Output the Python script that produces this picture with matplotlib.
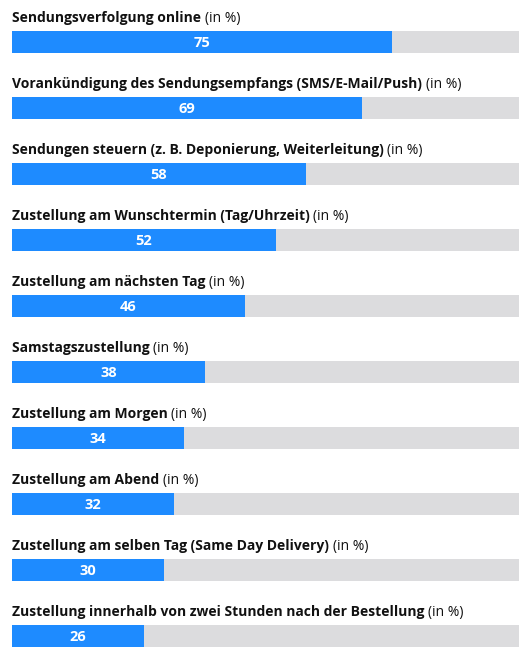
import matplotlib
matplotlib.use("Agg")
import matplotlib.pyplot as plt

labels = [
    "Sendungsverfolgung online",
    "Vorankündigung des Sendungsempfangs (SMS/E-Mail/Push)",
    "Sendungen steuern (z. B. Deponierung, Weiterleitung)",
    "Zustellung am Wunschtermin (Tag/Uhrzeit)",
    "Zustellung am nächsten Tag",
    "Samstagszustellung",
    "Zustellung am Morgen",
    "Zustellung am Abend",
    "Zustellung am selben Tag (Same Day Delivery)",
    "Zustellung innerhalb von zwei Stunden nach der Bestellung",
]
values = [75, 69, 58, 52, 46, 38, 34, 32, 30, 26]
suffix = "(in %)"

blue = "#1e8bff"
grey = "#dcdcde"
font = "Open Sans"

fig = plt.figure(figsize=(5.3, 6.58), dpi=100)
ax = fig.add_axes([0, 0, 1, 1])
px = 5.07  # pixels per percent
ax.set_xlim(-12 / px, (530 - 12) / px)
ax.set_ylim(616 / 66, -42 / 66)
ax.axis("off")

rows = list(range(len(values)))
ax.barh(rows, [100] * len(values), height=22 / 66, color=grey, left=0)
ax.barh(rows, values, height=22 / 66, color=blue, left=0)

renderer = fig.canvas.get_renderer()
for i, (lab, v) in enumerate(zip(labels, values)):
    ax.text(v / 2, i + 0.01, str(v), color="white", fontweight="bold",
            fontsize=10.5, ha="center", va="center", family=font)
    t = ax.text(0, i - 0.36, lab + " ", fontweight="bold", fontsize=10,
                ha="left", va="center", family=font, color="#111111")
    bb = t.get_window_extent(renderer=renderer)
    xr = ax.transData.inverted().transform((bb.x1, 0))[0]
    ax.text(xr, i - 0.36, suffix, fontsize=10, ha="left", va="center",
            family=font, color="#111111")

fig.savefig("out.png", dpi=100)
plt.close()
